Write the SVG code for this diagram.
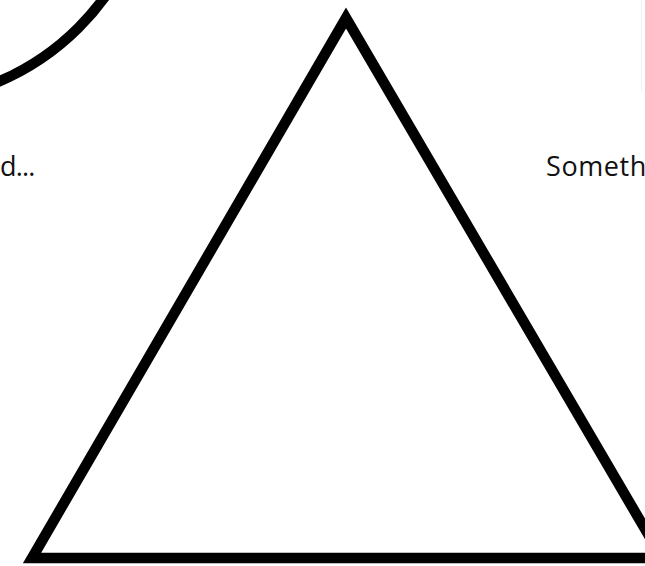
<svg xmlns="http://www.w3.org/2000/svg" width="645" height="566" viewBox="0 0 645 566">
<style>
.shape{fill:none;stroke:#000;stroke-width:10.5;stroke-linejoin:miter}
.lbl{font-family:"Open Sans","Noto Sans","Liberation Sans",sans-serif;font-size:27px;font-weight:500;letter-spacing:0.6px;fill:#111}
.tight{letter-spacing:-0.8px}
</style>
<rect width="645" height="566" fill="#fff"/>
<g id="circle-node"><circle class="shape" cx="-101" cy="-152" r="254"/></g>
<g id="left-label"><text class="lbl tight" x="0" y="176">d...</text></g>
<g id="triangle-node"><path class="shape" d="M346,18 L32,558 L662,558 Z"/></g>
<g id="right-node"><line x1="641.5" y1="0" x2="641.5" y2="92" stroke="#efefef" stroke-width="1"/></g>
<g id="right-label"><text class="lbl" x="546" y="176">Something</text></g>
<g id="connectors"/>
</svg>
